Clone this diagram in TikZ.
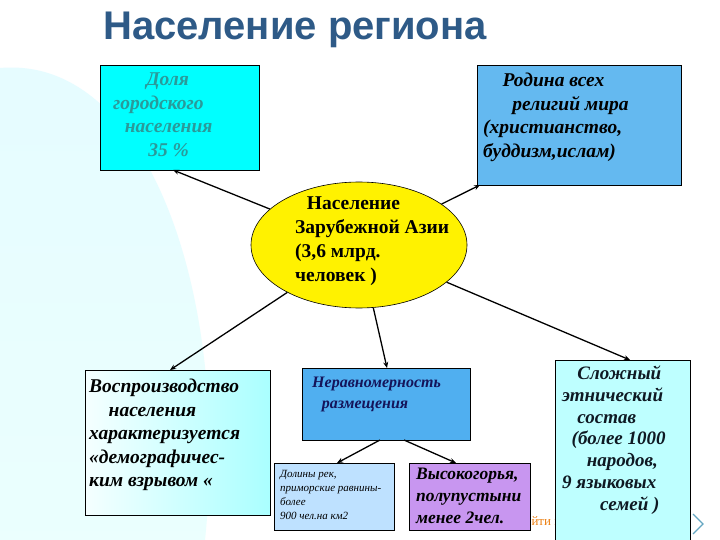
\documentclass[tikz,border=0pt]{standalone}
\usepackage{fontspec}
\setmainfont{Liberation Serif}
\newfontfamily\titlefont{Liberation Sans}
\usetikzlibrary{shapes.geometric,arrows.meta}
\definecolor{titleblue}{HTML}{2E5A87}
\definecolor{tealtxt}{HTML}{2A9A9A}
\tikzset{
 bx/.style={draw=black, line width=0.6pt, inner sep=0pt},
 txt/.style={font=\bfseries\itshape\fontsize{19.5}{23.5}\selectfont, align=left, anchor=north west, inner sep=0pt},
 con/.style={draw=black, line width=1.3pt, -{Stealth[length=6pt,width=5pt]}}
}
\begin{document}
\begin{tikzpicture}[x=1pt,y=-1pt]
\useasboundingbox (0,0) rectangle (720,540);
\fill[white] (0,0) rectangle (720,540);
\shade[top color=blue!12!cyan!10, bottom color=green!6!cyan!8] (0,68) .. controls (150,55) and (230,300) .. (205,540) -- (0,540) -- cycle;
\node[font=\titlefont\bfseries\fontsize{40}{44}\selectfont, text=titleblue, anchor=west, inner sep=0pt] (title) at (103,30) {Население региона};
% boxes
\path[bx, fill={rgb,255:red,0;green,255;blue,255}] (100,65) rectangle (259,170);
\node[txt, text=tealtxt] (dolya) at (113,73) {\hspace*{1.7em}Доля\\городского\\\hspace*{0.6em}населения\\\hspace*{1.8em}35 \%};
\coordinate (dolyaB) at (173,170);
\path[bx, fill={rgb,255:red,100;green,185;blue,240}] (477,65) rectangle (681,185);
\node[txt] (rodina) at (483,73) {\hspace*{1em}Родина всех\\\hspace*{1.5em}религий мира\\(христианство,\\буддизм,ислам)};
\coordinate (rodinaB) at (480,185);
\node[bx, ellipse, fill=yellow, minimum width=216, minimum height=126] (ell) at (359,245) {};
\node[font=\bfseries\fontsize{19.5}{24}\selectfont, align=left, anchor=north west, inner sep=0pt] (elltxt) at (295,197) {\hspace*{0.6em}Население\\Зарубежной Азии\\(3,6 млрд.\\человек )};
\path[bx, left color={rgb,255:red,245;green,255;blue,255}, right color={rgb,255:red,170;green,255;blue,255}] (85,370) rectangle (270,515);
\node[txt] (vospr) at (89,379) {Воспроизводство\\\hspace*{1em}населения\\характеризуется\\«демографичес-\\ким взрывом «};
\coordinate (vosprT) at (170,370);
\path[bx, fill={rgb,255:red,80;green,175;blue,240}] (302,368) rectangle (470,440);
\node[font=\bfseries\itshape\fontsize{16}{21}\selectfont, align=left, anchor=north west, inner sep=0pt, text={rgb,255:red,20;green,20;blue,90}] (nerav) at (312,377) {Неравномерность\\\hspace*{0.6em}размещения};
\coordinate (neravT) at (387,368);
\coordinate (neravL) at (380,440);
\coordinate (neravR) at (404,440);
\path[bx, fill={rgb,255:red,190;green,225;blue,255}] (274,463) rectangle (394,530);
\node[font=\itshape\fontsize{11}{14}\selectfont, align=left, anchor=north west, inner sep=0pt] (doliny) at (280,470) {Долины рек,\\приморские равнины-\\более\\900 чел.на км2};
\coordinate (dolinyT) at (337,463);
\node[anchor=west, font=\fontsize{13}{15}\selectfont, text=orange!70!brown] (frag) at (528,521) {йти на};
\path[bx, fill={rgb,255:red,200;green,150;blue,240}] (409,463) rectangle (530,530);
\node[txt, font=\bfseries\itshape\fontsize{17.5}{22}\selectfont] (vys) at (416,468) {Высокогорья,\\полупустыни\\менее 2чел.};
\coordinate (vysT) at (456,463);
\path[bx, fill={rgb,255:red,190;green,255;blue,255}] (555,360) rectangle (690,541);
\node[txt, font=\bfseries\itshape\fontsize{19}{21.7}\selectfont, text={rgb,255:red,15;green,25;blue,35}] (slozh) at (562,366) {\hspace*{0.8em}Сложный\\этнический\\\hspace*{0.8em}состав\\\hspace*{0.5em}(более 1000\\\hspace*{1.3em}народов,\\9 языковых\\\hspace*{2em}семей )};
\coordinate (slozhT) at (630,360);
\draw[cyan!50!gray, line width=1.2pt] (693,514) -- (703,524) -- (693,534);
% connectors
\draw[con] (ell) -- (dolyaB);
\draw[con] (ell) -- (rodinaB);
\draw[con] (ell) -- (vosprT);
\draw[con] (ell) -- (neravT);
\draw[con] (ell) -- (slozhT);
\draw[con] (neravL) -- (dolinyT);
\draw[con] (neravR) -- (vysT);
\end{tikzpicture}
\end{document}
